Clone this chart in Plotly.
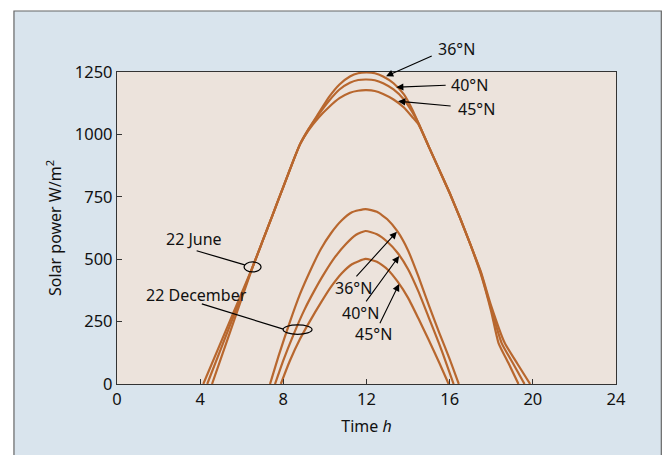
import plotly.graph_objects as go

# ---------------- data ----------------
june_36_t = [4.57, 5.55, 6.53, 7.0, 7.5, 8.0, 8.5, 8.8, 9.2, 9.7, 10.2, 10.7, 11.2, 11.6, 12.0, 12.4, 12.8, 13.3, 13.8, 14.2, 14.5, 15.0, 15.5, 16.0, 16.5, 17.0, 17.5, 18.0, 18.35, 18.85, 19.31]
june_36_p = [0, 235, 470, 572, 681, 790, 899, 960, 1020, 1085, 1150, 1200, 1232, 1245, 1248, 1245, 1232, 1205, 1160, 1100, 1045, 950, 858, 765, 665, 558, 440, 290, 164, 80, 0]

june_40_t = [4.34, 5.45, 6.53, 7.0, 7.5, 8.0, 8.5, 8.8, 9.2, 9.7, 10.2, 10.7, 11.2, 11.6, 12.0, 12.4, 12.8, 13.3, 13.8, 14.2, 14.5, 15.0, 15.5, 16.0, 16.5, 17.0, 17.5, 18.0, 18.5, 19.05, 19.6]
june_40_p = [0, 238, 470, 572, 681, 790, 899, 960, 1018, 1080, 1135, 1180, 1207, 1218, 1220, 1217, 1205, 1180, 1140, 1090, 1045, 950, 858, 765, 665, 558, 445, 300, 164, 82, 0]

june_45_t = [4.15, 5.35, 6.53, 7.0, 7.5, 8.0, 8.5, 8.8, 9.2, 9.7, 10.2, 10.7, 11.2, 11.6, 12.0, 12.4, 12.8, 13.3, 13.8, 14.2, 14.5, 15.0, 15.5, 16.0, 16.5, 17.0, 17.5, 18.0, 18.65, 19.25, 19.87]
june_45_p = [0, 237, 470, 572, 681, 790, 899, 960, 1015, 1068, 1110, 1145, 1167, 1175, 1177, 1174, 1162, 1140, 1108, 1070, 1040, 950, 858, 765, 665, 558, 450, 312, 164, 82, 0]

dec_36_t = [7.36, 7.8, 8.3, 8.8, 9.3, 9.8, 10.3, 10.8, 11.3, 11.95, 12.5, 13.0, 13.5, 14.0, 14.5, 15.0, 15.5, 16.0, 16.44]
dec_36_p = [0, 120, 245, 360, 455, 540, 605, 655, 688, 701, 690, 660, 610, 535, 430, 315, 205, 100, 0]

dec_40_t = [7.6, 8.0, 8.5, 9.0, 9.5, 10.0, 10.5, 11.0, 11.5, 11.95, 12.5, 13.0, 13.5, 14.0, 14.5, 15.0, 15.5, 15.85, 16.19]
dec_40_p = [0, 95, 200, 295, 375, 447, 510, 560, 598, 613, 600, 570, 525, 460, 370, 265, 160, 80, 0]

dec_45_t = [7.88, 8.3, 8.8, 9.3, 9.8, 10.3, 10.8, 11.3, 11.95, 12.5, 13.0, 13.5, 14.0, 14.5, 15.0, 15.5, 15.95]
dec_45_p = [0, 90, 180, 255, 325, 390, 443, 480, 501, 490, 460, 410, 345, 262, 175, 85, 0]

x_ticks = [0, 4, 8, 12, 16, 20, 24]
y_ticks = [0, 250, 500, 750, 1000, 1250]

lat_labels = ["36°N", "40°N", "45°N"]

# ---------------- styling ----------------
LINE = "#b8672e"
PLOTBG = "#ece3dc"
FRAME = "#d9e4ed"
FONT = "Noto Sans"

fig = go.Figure()
series = [(june_36_t, june_36_p), (june_40_t, june_40_p), (june_45_t, june_45_p),
          (dec_36_t, dec_36_p), (dec_40_t, dec_40_p), (dec_45_t, dec_45_p)]
for t, p in series:
    fig.add_trace(go.Scatter(x=t, y=p, mode="lines",
                             line=dict(color=LINE, width=2.2, shape="spline", smoothing=0.5),
                             showlegend=False, hoverinfo="skip"))

# outer light-blue frame and plot background
fig.add_shape(type="rect", xref="paper", yref="paper", x0=-0.2065, x1=1.0908, y0=-0.30, y1=1.1955,
              fillcolor=FRAME, line=dict(color="#666666", width=1.2), layer="below")
fig.add_shape(type="rect", xref="x domain", yref="y domain", x0=0, x1=1, y0=0, y1=1,
              fillcolor=PLOTBG, line=dict(width=0), layer="below")

# ovals
fig.add_shape(type="circle", xref="x", yref="y", x0=6.11, x1=6.93, y0=449, y1=489,
              line=dict(color="black", width=1.2))
fig.add_shape(type="circle", xref="x", yref="y", x0=7.99, x1=9.38, y0=199, y1=237,
              line=dict(color="black", width=1.2))
# leader lines
fig.add_shape(type="line", xref="x", yref="y", x0=3.83, y0=534, x1=6.14, y1=477,
              line=dict(color="black", width=1.2))
fig.add_shape(type="line", xref="x", yref="y", x0=4.08, y0=321, x1=8.0, y1=220,
              line=dict(color="black", width=1.2))

tf = dict(family=FONT, size=16, color="#111111")
# text labels
fig.add_annotation(x=3.71, y=582, xref="x", yref="y", text="22 June", showarrow=False, font=tf)
fig.add_annotation(x=3.80, y=357, xref="x", yref="y", text="22 December", showarrow=False, font=tf)

# June latitude arrows (tip, tail) and labels (paper coords: left edge, middle)
june_arrows = [((12.94, 1233), (15.21, 1317)),
               ((13.43, 1189), (15.88, 1197)),
               ((13.52, 1133), (16.12, 1113))]
june_label_pos = [(0.6397, 1.0737), (0.6657, 0.9583), (0.6798, 0.8814)]
for lab, (tip, tail), (lx, ly) in zip(lat_labels, june_arrows, june_label_pos):
    fig.add_annotation(x=tip[0], y=tip[1], ax=tail[0], ay=tail[1], xref="x", yref="y",
                       axref="x", ayref="y", text="", showarrow=True, arrowhead=2,
                       arrowsize=1.3, arrowwidth=1.1, arrowcolor="black")
    fig.add_annotation(x=lx, y=ly, xref="paper", yref="paper", text=lab, showarrow=False,
                       xanchor="left", yanchor="middle", font=tf)

dec_arrows = [((13.46, 610), (11.45, 425), (11.36, 385)),
              ((13.57, 513), (11.93, 325), (11.69, 285)),
              ((13.57, 401), (12.61, 237), (12.32, 201))]
for lab, (tip, tail, txt) in zip(lat_labels, dec_arrows):
    fig.add_annotation(x=tip[0], y=tip[1], ax=tail[0], ay=tail[1], xref="x", yref="y",
                       axref="x", ayref="y", text="", showarrow=True, arrowhead=2,
                       arrowsize=1.3, arrowwidth=1.1, arrowcolor="black")
    fig.add_annotation(x=txt[0], y=txt[1], xref="x", yref="y", text=lab, showarrow=False,
                       font=tf)

axis_common = dict(showgrid=False, zeroline=False, showline=True, mirror=True,
                   linecolor="#333333", linewidth=1.3, ticks="inside", ticklen=5,
                   tickcolor="#333333", tickwidth=1, tickfont=dict(family=FONT, size=16.5, color="#111111"))

fig.update_xaxes(range=[0, 24], tickvals=x_ticks, ticktext=[str(v) for v in x_ticks],
                 title=dict(text="Time <i>h</i>", font=dict(family=FONT, size=16, color="#111111"), standoff=11),
                 **axis_common)
fig.update_yaxes(range=[0, 1250], tickvals=y_ticks, ticktext=[str(v) for v in y_ticks],
                 title=dict(text="Solar power W/m<sup>2</sup>", font=dict(family=FONT, size=16, color="#111111"), standoff=9),
                 **axis_common)

fig.update_layout(width=664, height=455, margin=dict(l=117, r=48, t=72, b=71),
                  paper_bgcolor="white", plot_bgcolor=PLOTBG, font=dict(family=FONT))

fig.write_html("out.html")
